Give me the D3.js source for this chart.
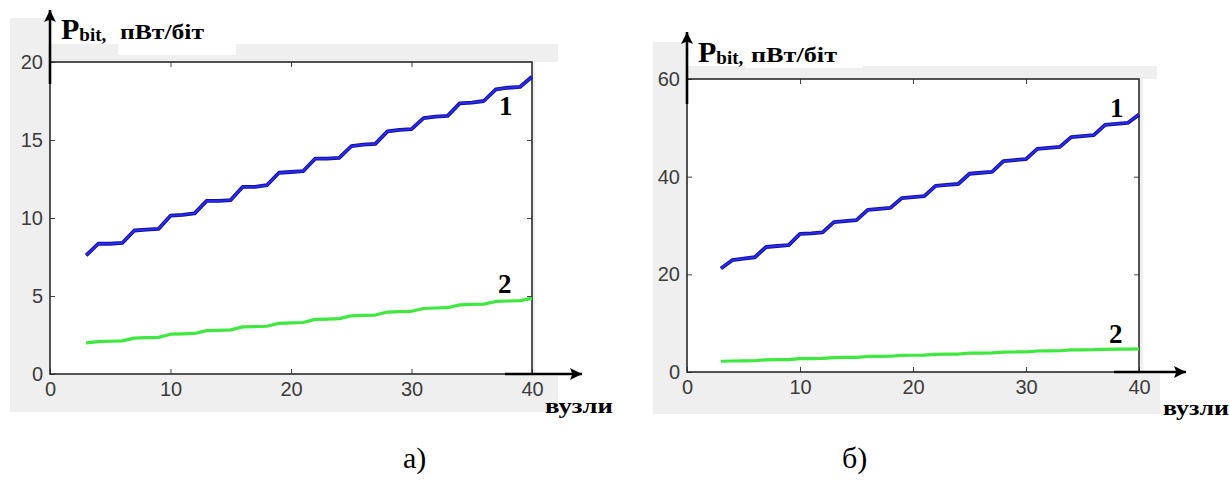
<!DOCTYPE html>
<html><head><meta charset="utf-8">
<script src="https://cdn.jsdelivr.net/npm/d3@7"></script>
<style>body{margin:0;background:#fff}svg{display:block}
.serif{font-family:'Liberation Serif','Times New Roman',serif}
.sans{font-family:'Liberation Sans',Arial,sans-serif}
</style>
</head><body>
<script>
// ---------- DATA ----------
const nodes = [3,4,5,6,7,8,9,10,11,12,13,14,15,16,17,18,19,20,21,22,23,24,25,26,27,28,29,30,31,32,33,34,35,36,37,38,39,40];
const xTicks = [0,10,20,30,40];
const yTicksA = [0,5,10,15,20];
const yTicksB = [0,20,40,60];
const seriesA1 = [7.6,8.35,8.35,8.4,9.2,9.25,9.3,10.15,10.2,10.3,11.1,11.1,11.15,12.0,12.0,12.1,12.9,12.95,13.0,13.8,13.8,13.85,14.6,14.7,14.75,15.55,15.65,15.7,16.4,16.5,16.55,17.35,17.4,17.5,18.25,18.35,18.4,19.05];
const seriesA2 = [2.0,2.08,2.1,2.12,2.3,2.33,2.35,2.55,2.57,2.6,2.78,2.8,2.83,3.02,3.04,3.06,3.25,3.28,3.3,3.5,3.52,3.55,3.73,3.76,3.78,3.97,4.0,4.02,4.2,4.23,4.25,4.43,4.46,4.48,4.65,4.68,4.7,4.85];
const seriesB1 = [21.2,22.9,23.2,23.5,25.6,25.8,26.0,28.3,28.4,28.6,30.7,30.9,31.1,33.2,33.4,33.6,35.6,35.8,36.0,38.1,38.3,38.5,40.6,40.8,41.0,43.2,43.4,43.6,45.7,45.9,46.1,48.1,48.3,48.5,50.6,50.8,51.0,52.7];
const seriesB2 = [2.2,2.25,2.27,2.3,2.5,2.52,2.55,2.72,2.75,2.78,2.95,2.98,3.0,3.18,3.2,3.23,3.4,3.43,3.45,3.62,3.65,3.68,3.85,3.88,3.9,4.08,4.1,4.13,4.3,4.33,4.35,4.52,4.55,4.57,4.65,4.68,4.7,4.72];
const seriesNames = ["1","2"];
const panelLabels = ["а)","б)"];
const yUnit = "пВт/біт";
const xUnit = "вузли";

// ---------- LAYOUT ----------
const W = 1230, H = 481;
const svg = d3.select("body").append("svg").attr("width", W).attr("height", H);
const defs = svg.append("defs");
defs.append("marker").attr("id","ah").attr("viewBox","0 0 10 10").attr("refX",10).attr("refY",5)
  .attr("markerWidth",15).attr("markerHeight",12).attr("markerUnits","userSpaceOnUse")
  .attr("orient","auto").append("path").attr("d","M0,0 L10,5 L0,10 L2,5 Z").attr("fill","#000");

const panels = [
  {x0:50, x1:532, y0:374, y1:62, yMax:20, yTicks:yTicksA, s1:seriesA1, s2:seriesA2,
   grays:[[10,44,525,368],[10,18,38,30],[520,376,38,36],[520,44,38,18]], whiteLbl:[118,18,118,37],
   pX:61, pY:39, unitX:120, unitW:84, yArrowTop:10, yArrowBot:84, xArrowL:505, xArrowR:582, xArrowY:374,
   xUnitX:545, xUnitY:413, xUnitW:68, l1:[499,115], l2:[498,293], panelLbl:[403,468]},
  {x0:687, x1:1139, y0:372, y1:79, yMax:60, yTicks:yTicksB, s1:seriesB1, s2:seriesB2,
   grays:[[653,66,490,348],[653,42,33,30],[1130,374,30,40],[1130,66,27,13]], whiteLbl:[745,40,118,28],
   pX:698, pY:62, unitX:751, unitW:86, yArrowTop:32, yArrowBot:104, xArrowL:1114, xArrowR:1186, xArrowY:372,
   xUnitX:1163, xUnitY:415, xUnitW:66, l1:[1110,117], l2:[1109,343], panelLbl:[842,468]}
];

panels.forEach((p, i) => {
  const g = svg.append("g");
  p.grays.forEach(r => g.append("rect").attr("x",r[0]).attr("y",r[1]).attr("width",r[2]).attr("height",r[3]).attr("fill","#efefef"));
  g.append("rect").attr("x",p.whiteLbl[0]).attr("y",p.whiteLbl[1]).attr("width",p.whiteLbl[2]).attr("height",p.whiteLbl[3]).attr("fill","#fff");

  const x = d3.scaleLinear().domain([0,40]).range([p.x0,p.x1]);
  const y = d3.scaleLinear().domain([0,p.yMax]).range([p.y0,p.y1]);

  g.append("rect").attr("x",p.x0).attr("y",p.y1).attr("width",p.x1-p.x0).attr("height",p.y0-p.y1).attr("fill","#fff");

  const tickStyle = sel => { sel.select(".domain").remove(); sel.selectAll("line").attr("stroke","#444"); };
  const ax = g.append("g").attr("transform",`translate(0,${p.y0})`).call(d3.axisBottom(x).tickValues(xTicks).tickSize(-5).tickPadding(8));
  ax.call(tickStyle);
  ax.selectAll("text").attr("class","sans").attr("font-size",20).attr("fill","#3c3c3c").attr("dy","0.72em");
  g.append("g").attr("transform",`translate(0,${p.y1})`).call(d3.axisTop(x).tickValues(xTicks.slice(1,4)).tickSize(-5).tickFormat("")).call(tickStyle);
  const ay = g.append("g").attr("transform",`translate(${p.x0},0)`).call(d3.axisLeft(y).tickValues(p.yTicks).tickSize(-5).tickPadding(7));
  ay.call(tickStyle);
  ay.selectAll("text").attr("class","sans").attr("font-size",20).attr("fill","#3c3c3c");
  g.append("g").attr("transform",`translate(${p.x1},0)`).call(d3.axisRight(y).tickValues(p.yTicks.slice(1,p.yTicks.length-1)).tickSize(-5).tickFormat("")).call(tickStyle);

  g.append("rect").attr("x",p.x0).attr("y",p.y1).attr("width",p.x1-p.x0).attr("height",p.y0-p.y1)
    .attr("fill","none").attr("stroke","#2a2a2a").attr("stroke-width",1.6);

  const line = d3.line().x((d,j)=>x(nodes[j])).y(d=>y(d));
  g.append("path").datum(p.s2).attr("d",line).attr("fill","none").attr("stroke","#3ee83e").attr("stroke-width",3.2).attr("stroke-linejoin","round");
  g.append("path").datum(p.s1).attr("d",line).attr("fill","none").attr("stroke","#12129a").attr("stroke-width",3.8).attr("stroke-linejoin","round");
  g.append("path").datum(p.s1).attr("d",line).attr("fill","none").attr("stroke","#2a2af2").attr("stroke-width",1.8).attr("stroke-linejoin","round");

  g.append("line").attr("x1",p.x0).attr("x2",p.x0).attr("y1",p.yArrowBot).attr("y2",p.yArrowTop)
    .attr("stroke","#000").attr("stroke-width",2.6).attr("marker-end","url(#ah)");
  g.append("line").attr("x1",p.xArrowL).attr("x2",p.xArrowR).attr("y1",p.xArrowY).attr("y2",p.xArrowY)
    .attr("stroke","#000").attr("stroke-width",2.6).attr("marker-end","url(#ah)");

  const t = g.append("text").attr("class","serif").attr("x",p.pX).attr("y",p.pY).attr("font-weight","bold").attr("fill","#000");
  t.append("tspan").attr("font-size",30).text("P");
  t.append("tspan").attr("font-size",19).attr("dy",2).text("bit,");
  g.append("text").attr("class","serif").attr("x",p.unitX).attr("y",p.pY).attr("font-weight","bold").attr("font-size",20)
    .attr("textLength",p.unitW).attr("lengthAdjust","spacingAndGlyphs").text(yUnit);

  g.append("text").attr("class","serif").attr("x",p.xUnitX).attr("y",p.xUnitY).attr("font-weight","bold").attr("font-size",21)
    .attr("textLength",p.xUnitW).attr("lengthAdjust","spacingAndGlyphs").text(xUnit);

  g.append("text").attr("class","serif").attr("x",p.l1[0]).attr("y",p.l1[1]).attr("font-weight","bold").attr("font-size",27).text(seriesNames[0]);
  g.append("text").attr("class","serif").attr("x",p.l2[0]).attr("y",p.l2[1]).attr("font-weight","bold").attr("font-size",27).text(seriesNames[1]);

  g.append("text").attr("class","serif").attr("x",p.panelLbl[0]).attr("y",p.panelLbl[1]).attr("font-size",30).text(panelLabels[i]);
});
</script>
</body></html>
